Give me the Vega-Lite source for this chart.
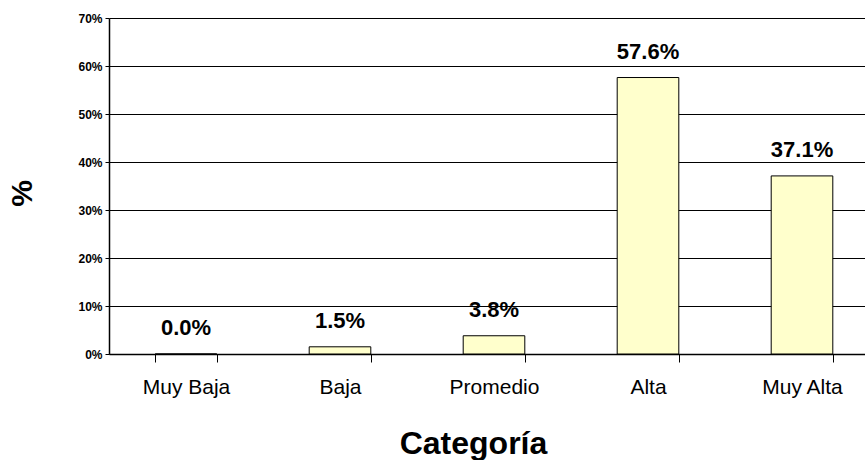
{
  "$schema": "https://vega.github.io/schema/vega-lite/v6.json",
  "autosize": {"type": "none"},
  "padding": {"left": 109, "top": 18, "right": 0, "bottom": 106},
  "width": 756,
  "height": 336,
  "background": "white",
  "config": {
    "view": {"stroke": null},
    "axis": {"domainColor": "black", "tickColor": "black", "gridColor": "black", "gridOpacity": 1, "labelColor": "black", "titleColor": "black"}
  },
  "data": {
    "values": [
      {"categoria": "Muy Baja", "pct": 0.0},
      {"categoria": "Baja", "pct": 0.015},
      {"categoria": "Promedio", "pct": 0.038},
      {"categoria": "Alta", "pct": 0.576},
      {"categoria": "Muy Alta", "pct": 0.371}
    ]
  },
  "encoding": {
    "x": {
      "field": "categoria",
      "type": "nominal",
      "sort": null,
      "scale": {"range": [0, 770], "paddingInner": 0.6, "paddingOuter": 0.3},
      "axis": {
        "title": "Categoría",
        "titleFont": "Liberation Sans",
        "titleFontSize": 32,
        "titleFontWeight": "bold",
        "titleBaseline": "alphabetic",
        "titleX": 364,
        "titleY": 99,
        "labelFont": "Liberation Sans",
        "labelFontSize": 21,
        "labelFontWeight": "normal",
        "labelBaseline": "alphabetic",
        "labelAngle": 0,
        "labelPadding": 31,
        "tickSize": 8,
        "tickBand": "extent",
        "domainWidth": 1.5,
        "grid": false
      }
    },
    "y": {
      "field": "pct",
      "type": "quantitative",
      "scale": {"domain": [0, 0.7], "nice": false},
      "axis": {
        "title": "%",
        "titleFont": "Liberation Sans",
        "titleFontSize": 30,
        "titleFontWeight": "bold",
        "titleAngle": -90,
        "titleAlign": "center",
        "titleBaseline": "middle",
        "titleX": -87,
        "titleY": 175,
        "values": [0, 0.1, 0.2, 0.3, 0.4, 0.5, 0.6, 0.7],
        "format": ".0%",
        "labelFont": "Liberation Sans",
        "labelFontSize": 12,
        "labelFontWeight": "bold",
        "labelPadding": 3,
        "tickSize": 4,
        "domainWidth": 1.5,
        "grid": true,
        "gridWidth": 1
      }
    }
  },
  "layer": [
    {
      "mark": {"type": "bar", "fill": "#FFFFCC", "stroke": "black", "strokeWidth": 1}
    },
    {
      "mark": {
        "type": "text",
        "font": "Liberation Sans",
        "fontSize": 22,
        "fontWeight": "bold",
        "baseline": "alphabetic",
        "align": "center",
        "dy": -19,
        "color": "black"
      },
      "encoding": {
        "text": {"field": "pct", "type": "quantitative", "format": ".1%"}
      }
    }
  ]
}
